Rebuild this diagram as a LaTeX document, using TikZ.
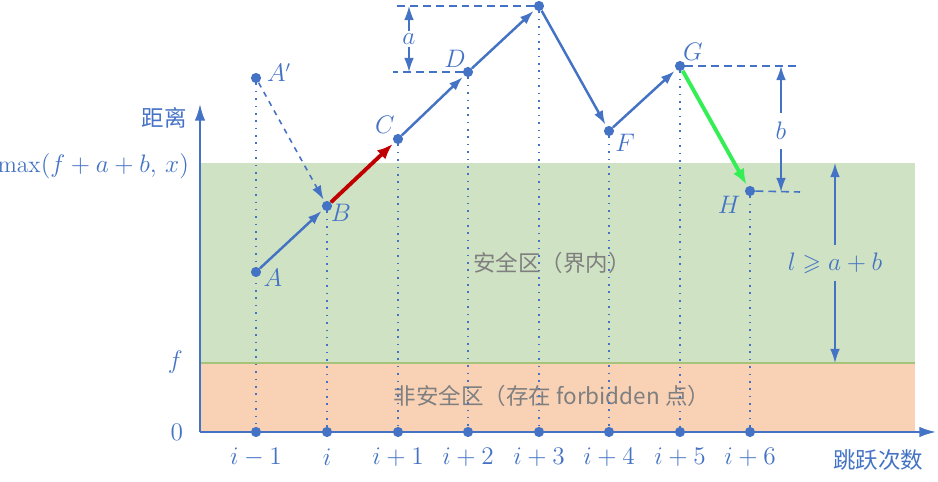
\documentclass[tikz,border=0pt]{standalone}
\usepackage{amsmath,amssymb}
\usepackage{fontspec}
\newfontfamily\cjk{Noto Sans CJK SC}
\usepackage{xcolor}
\usetikzlibrary{arrows.meta,positioning}
\definecolor{azul}{HTML}{4472C4}
\definecolor{verdeZona}{HTML}{CFE2C3}
\definecolor{laranjaZona}{HTML}{F9D2B6}
\definecolor{verdeLinha}{HTML}{A6C37A}
\definecolor{vermelho}{HTML}{C00000}
\definecolor{verdeSalto}{HTML}{33EE55}
\definecolor{cinza}{HTML}{7F7F7F}
\tikzset{
    ponto/.style={
        circle,
        fill=azul,
        inner sep=0pt,
        minimum size=5.8pt
    },
    rotulo/.style={text=azul, inner sep=1pt},
    zona/.style={text=cinza, font=\cjk\fontsize{12.8}{15}\selectfont},
    eixo/.style={-{Latex[length=9.5pt,width=6pt]}, azul, line width=1.1pt},
    salto/.style={-{Latex[length=8pt,width=5.5pt]}, azul, line width=1.4pt, shorten >=1pt},
    saltoDestaque/.style={salto, line width=2.2pt, -{Latex[length=9pt,width=7pt]}},
    guia/.style={azul, line width=1.5pt, dash pattern=on 0.9pt off 3.3pt},
    cota/.style={azul, line width=0.9pt, dash pattern=on 4.5pt off 2.8pt},
    setaCota/.style={-{Latex[length=8pt,width=5.5pt]}, azul, line width=0.9pt}
}

\begin{document}
\begin{tikzpicture}[x=0.02cm, y=-0.02cm, font=\fontsize{13.5}{16}\selectfont]
    \useasboundingbox (0,0) rectangle (938,482);
    % zonas
    \fill[verdeZona] (200,163) rectangle (915,363);
    \fill[laranjaZona] (200,363) rectangle (915,432);
    \draw[verdeLinha, line width=1.2pt] (200,363) -- (915,363);
    \node[zona] (segura) at (552,263) {安全区（界内）};
    \node[zona] (insegura) at (552,396) {非安全区（存在 forbidden 点）};
    % eixos
    \coordinate (origem) at (200,432);
    \coordinate (topoY) at (200,104);
    \coordinate (fimX) at (936,432);
    \draw[eixo] (origem) -- (topoY);
    \draw[eixo] (origem) -- (fimX);
    \node[rotulo, anchor=east, font=\cjk\fontsize{12.8}{15}\selectfont] (nomeY) at (189,118) {距离};
    \node[rotulo, font=\cjk\fontsize{12.8}{15}\selectfont] (nomeX) at (878,460) {跳跃次数};
    \node[rotulo, anchor=east] (nivelMax) at (191,166) {$\max(f+a+b,\,x)$};
    \node[rotulo, anchor=east] (nivelF) at (185,362) {$f$};
    \node[rotulo, anchor=east] (nivelZero) at (185,432) {$0$};
    % marcas no eixo
    \node[ponto] (t1) at (256,432) {};
    \node[ponto] (t2) at (327,432) {};
    \node[ponto] (t3) at (398,432) {};
    \node[ponto] (t4) at (468,432) {};
    \node[ponto] (t5) at (539,432) {};
    \node[ponto] (t6) at (609,432) {};
    \node[ponto] (t7) at (680,432) {};
    \node[ponto] (t8) at (750,432) {};
    \node[rotulo] (n1) at (256,457) {$i-1$};
    \node[rotulo] (n2) at (327,457) {$i$};
    \node[rotulo] (n3) at (398,457) {$i+1$};
    \node[rotulo] (n4) at (468,457) {$i+2$};
    \node[rotulo] (n5) at (539,457) {$i+3$};
    \node[rotulo] (n6) at (609,457) {$i+4$};
    \node[rotulo] (n7) at (680,457) {$i+5$};
    \node[rotulo] (n8) at (750,457) {$i+6$};
    % pontos do percurso
    \node[ponto] (Ap) at (256,78) {};
    \node[ponto] (A) at (256,272) {};
    \node[ponto] (B) at (327,206) {};
    \node[ponto] (C) at (398,139) {};
    \node[ponto] (D) at (468,72) {};
    \node[ponto] (E) at (539,6) {};
    \node[ponto] (F) at (609,131) {};
    \node[ponto] (G) at (680,66) {};
    \node[ponto] (H) at (750,191) {};
    \node[rotulo] (rotAp) at (279,73) {$A'$};
    \node[rotulo] (rotA) at (273,278) {$A$};
    \node[rotulo] (rotB) at (341,213) {$B$};
    \node[rotulo] (rotC) at (385,125) {$C$};
    \node[rotulo] (rotD) at (455,59) {$D$};
    \node[rotulo] (rotF) at (625,143) {$F$};
    \node[rotulo] (rotG) at (693,52) {$G$};
    \node[rotulo] (rotH) at (729,205) {$H$};
    % guias verticais
    \draw[guia] (Ap) -- (t1);
    \draw[guia] (B) -- (t2);
    \draw[guia] (C) -- (t3);
    \draw[guia] (D) -- (t4);
    \draw[guia] (E) -- (t5);
    \draw[guia] (F) -- (t6);
    \draw[guia] (G) -- (t7);
    \draw[guia] (H) -- (t8);
    % saltos
    \draw[salto, dashed, line width=0.9pt] (Ap) -- (B);
    \draw[salto] (A) -- (B);
    \draw[saltoDestaque, vermelho] (B) -- (C);
    \draw[salto] (C) -- (D);
    \draw[salto] (D) -- (E);
    \draw[salto] (E) -- (F);
    \draw[salto] (F) -- (G);
    \draw[saltoDestaque, verdeSalto] (G) -- (H);
    % cota a
    \coordinate (aTopo) at (393,6);
    \coordinate (aBase) at (393,72);
    \draw[cota] (E) -- (aTopo);
    \draw[cota] (D) -- (aBase);
    \node[rotulo] (rotuloA) at (409,39) {$a$};
    \draw[setaCota] (rotuloA.north) -- (409,6);
    \draw[setaCota] (rotuloA.south) -- (409,72);
    % cota b
    \coordinate (bTopo) at (800,66);
    \coordinate (bBase) at (800,192);
    \draw[cota] (G) -- (bTopo);
    \draw[cota] (H) -- (bBase);
    \node[rotulo, inner sep=5pt] (rotuloB) at (781,131) {$b$};
    \draw[setaCota] (rotuloB.north) -- (781,66);
    \draw[setaCota] (rotuloB.south) -- (781,192);
    % cota l
    \node[rotulo, inner sep=4pt] (rotuloL) at (835,263) {$l\geqslant a+b$};
    \draw[setaCota] (rotuloL.north) -- (835,163);
    \draw[setaCota] (rotuloL.south) -- (835,363);
\end{tikzpicture}
\end{document}
